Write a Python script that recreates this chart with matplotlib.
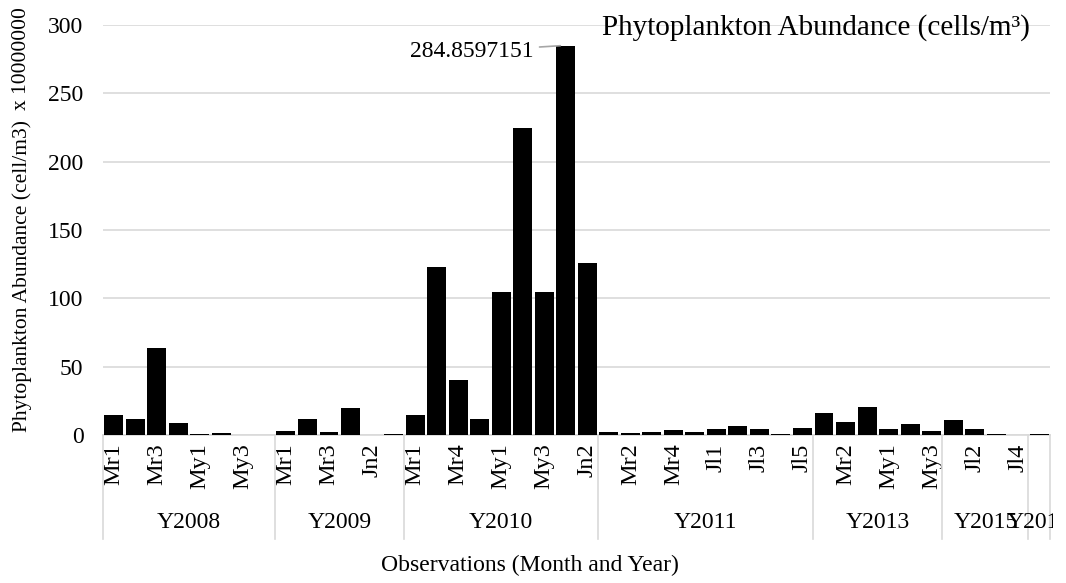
#------------Imports----------------------------------#
import matplotlib
matplotlib.use('Agg')
import matplotlib.pyplot as plt
import matplotlib.transforms as mtransforms
import numpy as np
#-----------------------------------------------------#

#----------Data--------------------------------------------------------------#
years = ['Y2008', 'Y2009', 'Y2010', 'Y2011', 'Y2013', 'Y2015', 'Y2019']
months = [
    ['Mr1', 'Mr2', 'Mr3', 'Mr4', 'My1', 'My2', 'My3', 'My4'],
    ['Mr1', 'Mr2', 'Mr3', 'Jn1', 'Jn2', 'Jn3'],
    ['Mr1', 'Mr2', 'Mr4', 'Ap1', 'My1', 'My2', 'My3', 'Jn1', 'Jn2'],
    ['Mr1', 'Mr2', 'Mr3', 'Mr4', 'Jn1', 'Jl1', 'Jl2', 'Jl3', 'Jl4', 'Jl5'],
    ['Mr1', 'Mr2', 'Mr3', 'My1', 'My2', 'My3'],
    ['Jl1', 'Jl2', 'Jl3', 'Jl4'],
    ['Jl1'],
]
abundance = [
    [15.0, 12.0, 64.0, 8.5, 0.7, 1.8, 0.0, 0.0],
    [3.2, 11.7, 2.4, 19.5, 0.0, 0.7],
    [15.0, 123.0, 40.0, 12.0, 104.5, 224.5, 105.0, 284.8597151, 126.0],
    [2.0, 1.5, 2.0, 3.4, 2.5, 4.4, 6.3, 4.4, 0.7, 4.9],
    [16.3, 9.5, 20.7, 4.6, 8.0, 2.9],
    [11.0, 4.4, 0.7, 0.0],
    [0.7],
]
#----------------------------------------------------------------------------#

plt.rcParams['font.family'] = ['Liberation Serif', 'DejaVu Serif']

labels = [m for grp in months for m in grp]
values = [v for grp in abundance for v in grp]
x = np.arange(len(values))

fig = plt.figure(figsize=(10.66, 5.83), dpi=100)
ax = fig.add_axes([103/1066, 1-435/583, (1050-103)/1066, 410/583])

ax.bar(x, values, width=0.88, color='black', zorder=3)
ax.set_xlim(-0.5, len(values) - 0.5)
ax.set_ylim(0, 300)
ax.set_yticks(range(0, 301, 50))
ax.grid(axis='y', color='#d9d9d9', linewidth=1.2, zorder=0)
for s in ['top', 'right', 'left']:
    ax.spines[s].set_visible(False)
ax.spines['bottom'].set_color('#d9d9d9')
ax.spines['bottom'].set_linewidth(1.2)
ax.tick_params(axis='y', length=0, pad=14, labelsize=17)
ax.tick_params(axis='x', length=0, pad=6, labelsize=17.5)

#every other category is labelled, like Excel does when crowded
ax.set_xticks(x[::2])
ax.set_xticklabels(labels[::2], rotation=90, va='top', ha='center')

#----Year groups under the month labels--------------------------------------#
trans = mtransforms.blended_transform_factory(ax.transData, ax.transAxes)
start = -0.5
bounds = [start]
for yr, grp in zip(years, months):
    end = start + len(grp)
    t = ax.text((start + end) / 2, -0.2146, yr, transform=trans, ha='center',
                va='center', fontsize=17, clip_on=False)
    if yr == years[-1]:
        #Excel cuts the last year label at the chart edge
        t.set_clip_box(mtransforms.TransformedBbox(
            mtransforms.Bbox([[0, 0], [1053/1066, 1]]), fig.transFigure))
        t.set_clip_on(True)
    bounds.append(end)
    start = end
for b in bounds:
    ax.plot([b, b], [0, -0.253], transform=trans, color='#d9d9d9',
            linewidth=1.2, clip_on=False)

#----Label for the peak value------------------------------------------------#
peak = int(np.argmax(values))
ax.annotate('{}'.format(values[peak]), xy=(peak - 0.25, values[peak]),
            xytext=(-19, -4), textcoords='offset points', ha='right',
            va='center', fontsize=17,
            arrowprops=dict(arrowstyle='-', color='#a6a6a6', lw=1.2,
                            shrinkA=2, shrinkB=0))

#----Titles------------------------------------------------------------------#
fig.text(1030/1066, 1-28/583, 'Phytoplankton Abundance (cells/m³)',
         ha='right', va='center', fontsize=21)
fig.text(530/1066, 1-565/583, 'Observations (Month and Year)',
         ha='center', va='center', fontsize=17)
fig.text(22/1066, 1-432/583, 'Phytoplankton Abundance (cell/m3)',
         rotation=90, ha='center', va='bottom', fontsize=15.5)
fig.text(22/1066, 1-110/583, 'x 10000000',
         rotation=90, ha='center', va='bottom', fontsize=15.5)

fig.savefig('out.png', dpi=100)
